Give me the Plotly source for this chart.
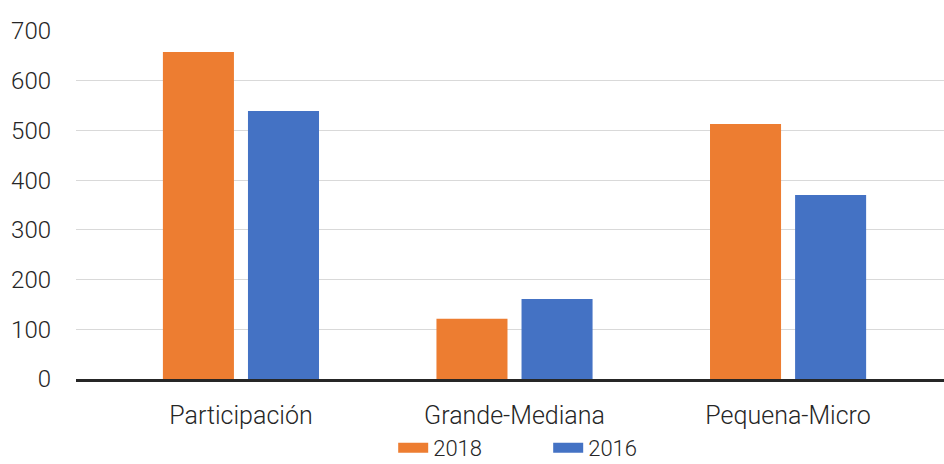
import plotly.graph_objects as go

categories = ["Participación", "Grande-Mediana", "Pequena-Micro"]
values_2018 = [658, 121, 513]
values_2016 = [539, 161, 370]
series_names = ["2018", "2016"]
series_colors = ["#ED7D31", "#4472C4"]
y_ticks = [0, 100, 200, 300, 400, 500, 600, 700]

fig = go.Figure()
for name, vals, col in zip(series_names, [values_2018, values_2016], series_colors):
    fig.add_trace(go.Bar(x=categories, y=vals, name=name, legendgroup=name,
                         showlegend=False, marker=dict(color=col, line=dict(width=0))))
# legend entries drawn as wide rectangular swatches
for name, col in zip(series_names, series_colors):
    fig.add_trace(go.Scatter(x=[None], y=[None], mode="lines", name=name, legendgroup=name,
                             line=dict(color=col, width=14), showlegend=True,
                             hoverinfo="skip"))

W, H = 944, 464
left, right, top, bottom = 76, 0, 31, 85

fig.update_layout(
    width=W, height=H,
    margin=dict(l=left, r=right, t=top, b=bottom, pad=0, autoexpand=False),
    paper_bgcolor="white", plot_bgcolor="white",
    barmode="group", bargap=0.378, bargroupgap=0.165,
    font=dict(family="Roboto", size=24, color="#262626", weight=300),
    showlegend=True,
    legend=dict(orientation="h", x=0.544, xanchor="center", y=-0.198, yanchor="middle",
                font=dict(size=22), entrywidth=110, entrywidthmode="pixels",
                traceorder="normal", bgcolor="rgba(0,0,0,0)"),
    xaxis=dict(type="category", range=[-0.603, 2.570], showgrid=False, automargin=False,
               showline=True, linecolor="#262626", linewidth=2.5,
               ticks="", tickfont=dict(size=25), ticklabelstandoff=12, zeroline=False),
    yaxis=dict(range=[0, 700], tickvals=y_ticks, showgrid=True, gridcolor="#D9D9D9",
               gridwidth=1.3, zeroline=False, showline=False, ticks="", automargin=False,
               tickfont=dict(size=24), ticklabelstandoff=24, fixedrange=True),
)

fig.write_html("out.html", config={"displayModeBar": False},
               post_script="document.body.style.margin='0';document.body.style.overflow='hidden';")
